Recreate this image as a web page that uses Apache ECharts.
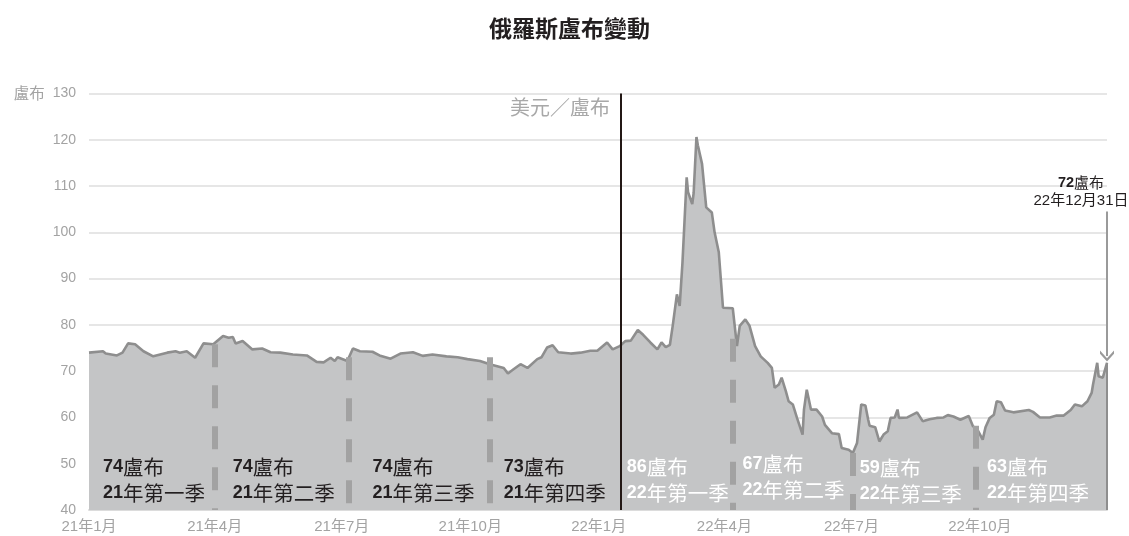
<!DOCTYPE html>
<html><head><meta charset="utf-8">
<script src="https://cdn.jsdelivr.net/npm/echarts@6/dist/echarts.min.js"></script>
<style>html,body{margin:0;padding:0;background:#fff}#c{width:1129px;height:536px}</style>
</head><body><div id="c"></div>
<script>
const dates = ['2021-01-01','2021-01-11','2021-01-13','2021-01-21','2021-01-25','2021-01-29','2021-02-03','2021-02-09','2021-02-16','2021-02-26',
'2021-03-04','2021-03-07','2021-03-12','2021-03-18','2021-03-24','2021-03-31','2021-04-07','2021-04-11','2021-04-14','2021-04-16',
'2021-04-21','2021-04-28','2021-05-05','2021-05-11','2021-05-18','2021-05-27','2021-06-06','2021-06-13','2021-06-18','2021-06-23',
'2021-06-26','2021-06-28','2021-07-05','2021-07-09','2021-07-14','2021-07-23','2021-07-28','2021-08-05','2021-08-12','2021-08-21',
'2021-08-28','2021-09-04','2021-09-14','2021-09-22','2021-09-29','2021-10-08','2021-10-15','2021-10-25','2021-10-28','2021-11-01',
'2021-11-06','2021-11-11','2021-11-18','2021-11-21','2021-11-25','2021-11-29','2021-12-03','2021-12-12','2021-12-19','2021-12-26',
'2021-12-31','2022-01-07','2022-01-11','2022-01-16','2022-01-20','2022-01-24','2022-01-29','2022-02-02','2022-02-07','2022-02-12',
'2022-02-15','2022-02-18','2022-02-21','2022-02-23','2022-02-26','2022-02-28','2022-03-02','2022-03-05','2022-03-06','2022-03-09',
'2022-03-10','2022-03-12','2022-03-13','2022-03-16','2022-03-19','2022-03-23','2022-03-25','2022-03-28','2022-03-31','2022-04-07',
'2022-04-10','2022-04-12','2022-04-16','2022-04-19','2022-04-23','2022-04-27','2022-05-02','2022-05-05','2022-05-07','2022-05-10',
'2022-05-12','2022-05-15','2022-05-17','2022-05-20','2022-05-23','2022-05-27','2022-05-28','2022-05-30','2022-06-02','2022-06-06',
'2022-06-10','2022-06-12','2022-06-17','2022-06-22','2022-06-24','2022-06-29','2022-07-02','2022-07-05','2022-07-08','2022-07-11',
'2022-07-13','2022-07-14','2022-07-18','2022-07-21','2022-07-24','2022-07-27','2022-07-29','2022-08-01','2022-08-03','2022-08-04',
'2022-08-10','2022-08-17','2022-08-21','2022-08-26','2022-08-31','2022-09-05','2022-09-08','2022-09-12','2022-09-17','2022-09-23',
'2022-09-26','2022-09-29','2022-10-03','2022-10-05','2022-10-08','2022-10-11','2022-10-13','2022-10-16','2022-10-19','2022-10-25',
'2022-11-05','2022-11-08','2022-11-13','2022-11-20','2022-11-25','2022-11-30','2022-12-05','2022-12-08','2022-12-13','2022-12-17',
'2022-12-20','2022-12-21','2022-12-24','2022-12-25','2022-12-28','2022-12-31'];
const rates = [74.0,74.3,73.8,73.4,74.0,76.0,75.8,74.3,73.2,74.0,
74.3,74.0,74.3,72.9,76.0,75.8,77.6,77.2,77.4,76.0,
76.5,74.7,74.9,74.1,74.0,73.6,73.4,72.0,71.9,72.9,
72.2,73.0,72.2,74.9,74.3,74.2,73.4,72.7,73.8,74.1,
73.3,73.6,73.2,73.0,72.6,72.2,71.5,70.7,69.5,70.4,
71.5,70.7,72.6,73.0,75.1,75.6,74.1,73.8,74.0,74.4,
74.4,76.2,74.7,75.4,76.5,76.6,78.9,77.8,76.2,74.7,
76.2,75.2,75.7,79.8,86.6,84.1,93.5,111.9,108.7,106.1,
108.5,120.6,118.8,114.8,105.4,104.3,100.0,95.7,83.7,83.6,
75.4,79.8,81.2,79.8,75.4,73.2,71.8,70.7,66.4,67.1,
68.6,65.7,63.5,62.8,59.9,56.3,61.7,66.0,61.7,61.7,
60.2,58.4,56.6,56.4,53.4,53.0,52.3,54.5,62.8,62.6,
59.5,58.2,57.9,54.8,56.3,57.0,59.9,60.0,61.7,59.9,
60.0,61.1,59.2,59.6,59.9,60.0,60.5,60.2,59.5,60.3,
58.1,57.5,55.2,57.9,59.9,60.6,63.5,63.3,61.5,61.1,
61.6,61.2,60.0,60.0,60.4,60.4,61.6,62.8,62.4,63.5,
65.3,67.1,71.8,68.9,68.6,71.8];
const yTicks = [40,50,60,70,80,90,100,110,120,130];
const xTickDates = ['2021-01-01','2021-04-01','2021-07-01','2021-10-01','2022-01-01','2022-04-01','2022-07-01','2022-10-01'];
const xTickLabels = ['21年1月','21年4月','21年7月','21年10月','22年1月','22年4月','22年7月','22年10月'];
const dividerDates = ['2021-04-01','2021-07-06','2021-10-15','2022-04-07','2022-07-02','2022-09-28'];
const dividerTops = [75.8,73.0,73.0,77.0,52.3,58.2];
const splitDate = '2022-01-17';
const splitLabel = '美元／盧布';
const quarterAvg = [74,74,74,73,86,67,59,63];
const quarterNames = ['21年第一季','21年第二季','21年第三季','21年第四季','22年第一季','22年第二季','22年第三季','22年第四季'];
const quarterLabelDates = ['2021-01-11','2021-04-14','2021-07-23','2021-10-25','2022-01-21','2022-04-14','2022-07-07','2022-10-06'];
const quarterLabelTops = [52.1,52.1,52.1,52.1,52.1,52.7,51.8,52.1];
const quarterLabelDark = [true,true,true,true,false,false,false,false];
const lastValue = 72;
const lastDateLabel = '22年12月31日';
const unit = '盧布';
const titleText = '俄羅斯盧布變動';

const FONT = '"Liberation Sans", "Noto Sans CJK TC", sans-serif';
const CJK = '"Noto Sans CJK TC", sans-serif';
// day index since 2021-01-01
const t = s => { const [y, m, d] = s.split('-').map(Number); return Math.round((Date.UTC(y, m - 1, d) - Date.UTC(2021, 0, 1)) / 864e5); };
const xTickTs = xTickDates.map(t);
const xMin = t('2021-01-01'), xMax = t('2022-12-31');
const lastX = t(dates[dates.length - 1]), lastY = rates[rates.length - 1];

const chart = echarts.init(document.getElementById('c'), null, {renderer: 'canvas'});
const dividerLines = dividerDates.map((d, i) => [
  {coord: [t(d), dividerTops[i]], lineStyle: {color: '#a2a2a2', width: 6, type: [23, 18]}},
  {coord: [t(d), 40]}
]);
const option = {
  animation: false,
  title: {
    text: titleText, left: 484, top: 12,
    textStyle: {fontSize: 23, fontWeight: 'bold', color: '#231f20', fontFamily: CJK}
  },
  grid: {left: 89, right: 22, top: 93.5, bottom: 26},
  xAxis: {
    type: 'value', min: xMin, max: xMax,
    axisLine: {show: true, lineStyle: {color: '#dcdcdc', width: 2}},
    axisTick: {show: false},
    splitLine: {show: false},
    axisLabel: {
      customValues: xTickTs,
      showMinLabel: true, showMaxLabel: true,
      margin: 9, fontSize: 15, color: '#a3a3a3', fontFamily: FONT,
      formatter: v => {
        let best = 0;
        xTickTs.forEach((x, i) => { if (Math.abs(x - v) < Math.abs(xTickTs[best] - v)) best = i; });
        return xTickLabels[best];
      }
    }
  },
  yAxis: {
    type: 'value', min: yTicks[0], max: yTicks[yTicks.length - 1], interval: 10,
    axisLine: {show: false}, axisTick: {show: false},
    splitLine: {show: true, lineStyle: {color: '#e6e6e6', width: 2}},
    axisLabel: {
      margin: 13, fontSize: 14, color: '#a3a3a3', fontFamily: FONT,
      formatter: v => v === yTicks[yTicks.length - 1] ? '{u|' + unit + '}  ' + v : String(v),
      rich: {u: {fontSize: 15.5, color: '#a3a3a3', fontFamily: CJK}}
    }
  },
  series: [{
    type: 'line',
    data: dates.map((d, i) => [t(d), rates[i]]),
    showSymbol: false, symbol: 'none',
    lineStyle: {color: '#8e8e8e', width: 2.6},
    areaStyle: {color: '#c4c5c6', opacity: 1, origin: 'start'},
    z: 2,
    markLine: {
      silent: true, symbol: ['none', 'none'], animation: false,
      label: {show: false},
      data: [
        ...dividerLines,
        [{coord: [t(splitDate), 130], lineStyle: {color: '#231815', width: 2, type: 'solid'}}, {coord: [t(splitDate), 40]}],
        [{coord: [lastX, lastY], lineStyle: {color: '#8e8e8e', width: 2, type: 'solid'}}, {coord: [lastX, 40]}]
      ]
    }
  }, {
    type: 'line', data: [], silent: true,
    markLine: {
      silent: true, animation: false,
      symbol: ['none', 'path://M5,0 L10,6 L10,8.5 L5,2.5 L0,8.5 L0,6 Z'],
      symbolSize: [14, 11],
      label: {show: false},
      lineStyle: {color: '#9a9a9a', width: 2, type: 'solid'},
      data: [[{coord: [lastX, 104.5]}, {coord: [lastX, 73.3]}]]
    }
  }]
};
chart.setOption(option);

const px = (d, v) => chart.convertToPixel({gridIndex: 0}, [t(d), v]);
const graphics = [];
quarterAvg.forEach((a, i) => {
  const p = px(quarterLabelDates[i], quarterLabelTops[i]);
  const col = quarterLabelDark[i] ? '#231f20' : '#ffffff';
  const name = quarterNames[i];
  graphics.push({
    type: 'text', x: p[0], y: p[1], z: 100,
    style: {
      text: '{n|' + a + '}{c|' + unit + '}\n{n|' + name.slice(0, 2) + '}{c|' + name.slice(2) + '}',
      fill: col, align: 'left', verticalAlign: 'top',
      rich: {
        n: {fontSize: 18, fontWeight: 'bold', fontFamily: FONT, fill: col, lineHeight: 26},
        c: {fontSize: 20.5, fontWeight: 'normal', fontFamily: CJK, fill: col, lineHeight: 26}
      }
    }
  });
});
const sp = px(splitDate, 130);
graphics.push({
  type: 'text', x: sp[0] - 11, y: sp[1] + 4, z: 100,
  style: {text: splitLabel, fill: '#a8a8a8', font: 'normal 20px ' + CJK, align: 'right', verticalAlign: 'top'}
});
const lp = chart.convertToPixel({gridIndex: 0}, [lastX, 104.5]);
graphics.push({
  type: 'text', x: lp[0] - 26, y: lp[1] - 38, z: 100,
  style: {
    text: '{n|' + lastValue + '}{c|' + unit + '}\n{m|' + lastDateLabel + '}',
    fill: '#231f20', align: 'center', verticalAlign: 'top',
    rich: {
      n: {fontSize: 14.5, fontWeight: 'bold', fontFamily: FONT, fill: '#231f20', lineHeight: 18},
      c: {fontSize: 15, fontFamily: CJK, fill: '#231f20', lineHeight: 18},
      m: {fontSize: 15, fontFamily: FONT, fill: '#231f20', lineHeight: 18}
    }
  }
});
chart.setOption({graphic: graphics});
</script>
</body></html>
